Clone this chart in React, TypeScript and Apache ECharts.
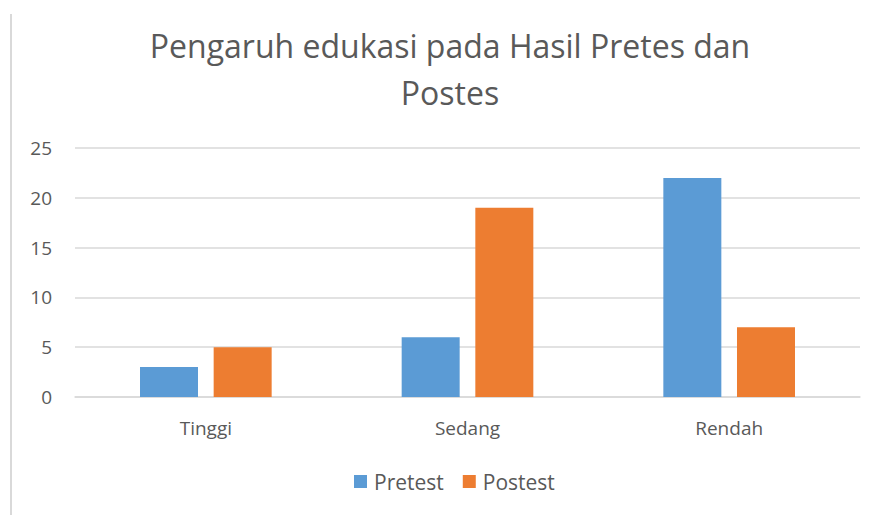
import React, { useEffect, useRef } from "react";
import * as echarts from "echarts";

const categories = ["Tinggi", "Sedang", "Rendah"];
const pretest = [3, 6, 22];
const postest = [5, 19, 7];
const titleText = "Pengaruh edukasi pada Hasil Pretes dan\nPostes";
const seriesNames = ["Pretest", "Postest"];

const FONT = "'Open Sans', 'Noto Sans', sans-serif";
const TEXT = "#595959";

export default function App() {
  const ref = useRef<HTMLDivElement>(null);
  useEffect(() => {
    document.body.style.margin = "0";
    const chart = echarts.init(ref.current!, null, { renderer: "svg" });
    chart.setOption({
      animation: false,
      backgroundColor: "#ffffff",
      title: {
        text: titleText,
        left: 445,
        top: 17,
        textAlign: "center",
        textStyle: {
          fontFamily: FONT,
          fontSize: 32,
          fontWeight: "normal",
          color: TEXT,
          lineHeight: 47,
        },
      },
      legend: {
        data: seriesNames,
        top: 466,
        left: 349,
        itemWidth: 13,
        itemHeight: 13,
        itemGap: 19,
        itemStyle: { borderWidth: 0 },
        icon: "rect",
        textStyle: { fontFamily: FONT, fontSize: 21, color: TEXT, padding: [0, 0, 0, 2] },
      },
      grid: { left: 75, right: 17, top: 148, bottom: 118, containLabel: false },
      xAxis: {
        type: "category",
        data: categories,
        axisLine: { lineStyle: { color: "#d9d9d9", width: 1.5 } },
        axisTick: { show: false },
        axisLabel: { fontFamily: FONT, fontSize: 19, color: TEXT, margin: 21 },
      },
      yAxis: {
        type: "value",
        min: 0,
        max: 25,
        interval: 5,
        axisLine: { show: false },
        axisTick: { show: false },
        splitLine: { lineStyle: { color: "#d9d9d9", width: 1.5 } },
        axisLabel: { fontFamily: FONT, fontSize: 19, color: TEXT, margin: 23 },
      },
      series: [
        {
          name: seriesNames[0],
          type: "bar",
          data: pretest,
          barWidth: 58,
          barGap: "27%",
          itemStyle: { color: "#5b9bd5" },
        },
        {
          name: seriesNames[1],
          type: "bar",
          data: postest,
          barWidth: 58,
          itemStyle: { color: "#ed7d31" },
        },
      ],
      graphic: [
        {
          type: "line",
          shape: { x1: 11, y1: 14, x2: 11, y2: 515 },
          style: { stroke: "#d9d9d9", lineWidth: 2 },
        },
      ],
    });
    return () => chart.dispose();
  }, []);
  return <div ref={ref} style={{ width: 877, height: 515 }} />;
}
